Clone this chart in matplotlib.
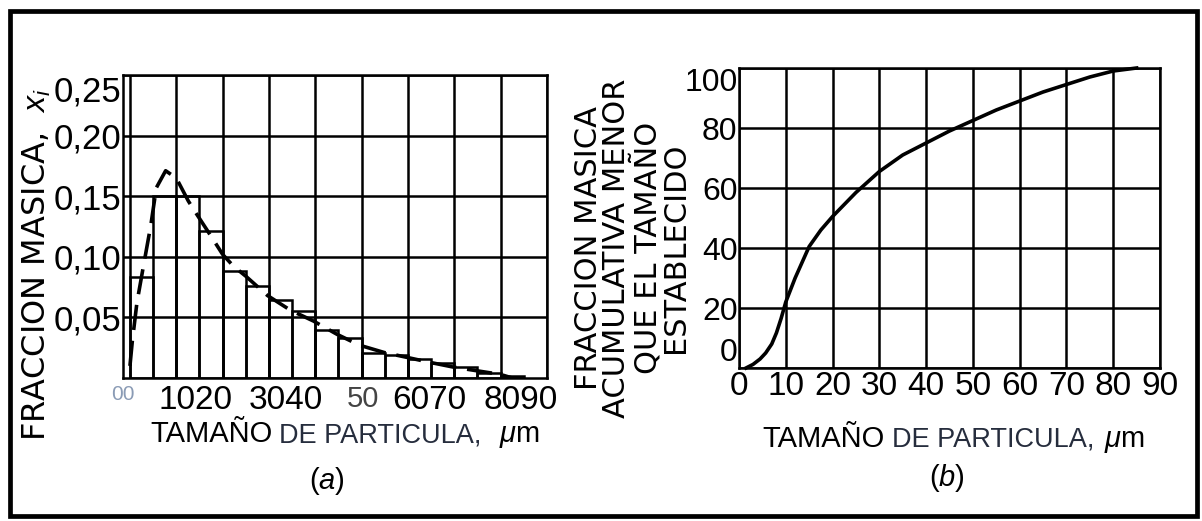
import matplotlib
matplotlib.use("Agg")
import matplotlib.pyplot as plt
from matplotlib.patches import Rectangle

# --- datos ---
# (a) histograma de fraccion masica, intervalos de 5 um
bin_left = [0, 5, 10, 15, 20, 25, 30, 35, 40, 45, 50, 55, 60, 65, 70, 75, 80]
mass_frac = [0.083, 0.150, 0.150, 0.121, 0.088, 0.076, 0.064, 0.055, 0.040,
             0.033, 0.021, 0.019, 0.016, 0.012, 0.009, 0.004, 0.002]

# curva de distribucion (discontinua)
dist_x = [0, 0.5, 1.5, 2.8, 4.5, 5.7, 7.7, 10, 12.6, 14.6, 17.5, 20, 22.4, 25,
          29.7, 34.6, 39.6, 44.7, 49.6, 54.9, 59.8, 64.6, 69.8, 74.8, 79.9, 82.5]
dist_y = [0.010, 0.030, 0.062, 0.090, 0.126, 0.157, 0.171, 0.165, 0.146, 0.134,
          0.117, 0.102, 0.092, 0.084, 0.068, 0.056, 0.047, 0.036, 0.027, 0.021,
          0.017, 0.013, 0.009, 0.006, 0.003, 0.0]

# (b) fraccion acumulativa
cum_x = [1.5, 3, 4.5, 5.7, 7, 8, 9, 10, 12, 15, 17.5, 20, 25, 30, 35, 40, 45,
         50, 55, 60, 65, 70, 75, 80, 85]
cum_y = [0, 1.2, 3, 5, 8, 11.7, 16.5, 22, 30, 40.5, 46, 50.5, 58.5, 65.5, 71,
         75, 79, 82.5, 86, 89, 92, 94.5, 97, 99, 100]

xa_tick_pos = [-1.5, 14.2, 33.7, 50.3, 64.7, 84.3]
xa_tick_lab = ["00", "1020", "3040", "50", "6070", "8090"]
ya_ticks = [0.05, 0.10, 0.15, 0.20, 0.25]
ya_lab = ["0,05", "0,10", "0,15", "0,20", "0,25"]
xb_ticks = [0, 10, 20, 30, 40, 50, 60, 70, 80, 90]
yb_ticks = [0, 20, 40, 60, 80, 100]

W, H = 1202, 521
tick_font = "Liberation Sans"
plt.rcParams["mathtext.fontset"] = "custom"
plt.rcParams["mathtext.it"] = "Liberation Sans:italic"
plt.rcParams["mathtext.rm"] = "Liberation Sans"

fig = plt.figure(figsize=(W / 100, H / 100), dpi=100)


def px(x, y):
    return x / W, 1 - y / H


def estilo(ax, size):
    ax.grid(True, which="major", color="black", lw=1.8)
    ax.set_axisbelow(True)
    for s in ax.spines.values():
        s.set_linewidth(1.8)
    ax.tick_params(which="both", length=0, labelsize=size)
    for lab in ax.get_xticklabels(which="both") + ax.get_yticklabels():
        lab.set_family(tick_font)


# ---------- (a) ----------
ax1 = fig.add_axes([123 / W, 1 - 378 / H, 424 / W, 303 / H])
ax1.bar(bin_left, mass_frac, width=5, align="edge", fill=False,
        edgecolor="black", lw=1.8, zorder=3)
ax1.plot(dist_x, dist_y, color="black", lw=2.6, ls=(0, (7, 3)), zorder=4)
ax1.set_xlim(0, 90)
ax1.set_ylim(0, 0.25)
ax1.set_xticks(range(0, 91, 10))
ax1.set_xticklabels([])
ax1.set_xticks(xa_tick_pos, minor=True)
ax1.set_xticklabels(xa_tick_lab, minor=True)
ax1.set_yticks(ya_ticks)
ax1.set_yticklabels(ya_lab)
estilo(ax1, 24)
ax1.tick_params(axis="y", labelsize=25)
ax1.tick_params(axis="x", which="minor", pad=5)
ax1.tick_params(axis="y", pad=1)
ax1.grid(False, which="minor")
xl = ax1.get_xticklabels(minor=True)
xl[0].set_color("#8a9bb5")
xl[0].set_fontsize(15)
xl[3].set_color("#444444")
xl[3].set_fontsize(21)
ax1.get_yticklabels()[-1].set_va("top")

# ---------- (b) ----------
ax2 = fig.add_axes([739 / W, 1 - 368 / H, 421 / W, 300 / H])
ax2.plot(cum_x, cum_y, color="black", lw=2.6, zorder=4, clip_on=False)
ax2.set_xlim(0, 90)
ax2.set_ylim(0, 100)
ax2.set_xticks(xb_ticks)
ax2.set_yticks(yb_ticks)
estilo(ax2, 24)
ax2.tick_params(axis="y", labelsize=23)
ax2.tick_params(axis="x", pad=2)
ax2.tick_params(axis="y", pad=1)
yl = ax2.get_yticklabels()
yl[0].set_va("bottom")
yl[-1].set_va("top")

# ---------- textos ----------
fig.text(*px(37, 264), "FRACCION MASICA,  $x_i$", rotation=90, ha="center",
         va="center", fontsize=23, family="DejaVu Sans")
fig.text(*px(632, 248), "FRACCION MASICA\nACUMULATIVA MENOR\nQUE EL TAMAÑO\nESTABLECIDO",
         rotation=90, ha="center", va="center", fontsize=22,
         family="DejaVu Sans", linespacing=0.97, multialignment="center")

for x_t, x_d, x_m, y_b in [(273, 279, 497, 442), (885, 892, 1102, 447)]:
    fig.text(*px(x_t, y_b), "TAMAÑO", ha="right", va="baseline",
             fontsize=21, family="Liberation Sans", color="black")
    fig.text(*px(x_d, y_b), "DE PARTICULA,", ha="left", va="baseline",
             fontsize=19.5, family="Liberation Sans", color="#262d3d")
    fig.text(*px(x_m + 2, y_b), r"$\mu$m", ha="left", va="baseline",
             fontsize=21, family="Liberation Sans", color="black")

fig.text(*px(327, 481), "($a$)", ha="center", va="center", fontsize=21,
         family="Liberation Sans")
fig.text(*px(947, 478), "($b$)", ha="center", va="center", fontsize=21,
         family="Liberation Sans")

# marco exterior
fig.patches.append(Rectangle(px(10, 516), 1187 / W, 505 / H, fill=False,
                             lw=3.4, edgecolor="black",
                             transform=fig.transFigure, figure=fig))

fig.savefig("out.png", dpi=100, facecolor="white")
